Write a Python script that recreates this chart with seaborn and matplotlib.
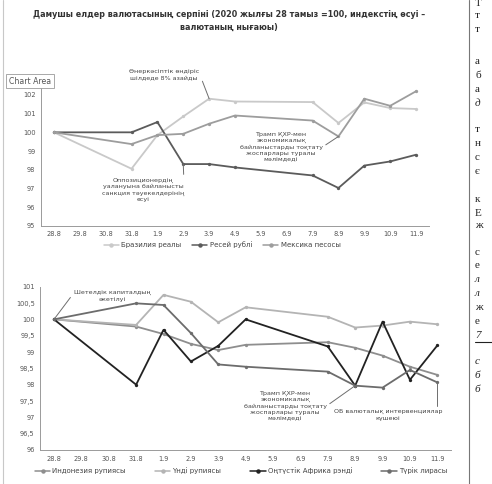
import numpy as np
import pandas as pd
import matplotlib
matplotlib.use('Agg')
import matplotlib.pyplot as plt
from matplotlib.lines import Line2D
from matplotlib.ticker import FuncFormatter, FixedLocator
import seaborn as sns

# calendar days on the category axis and the trading days that carry values
dates = ['28.8', '29.8', '30.8', '31.8', '1.9', '2.9', '3.9', '4.9', '5.9', '6.9',
         '7.9', '8.9', '9.9', '10.9', '11.9']
trade_days = ['28.8', '31.8', '1.9', '2.9', '3.9', '4.9', '7.9', '8.9', '9.9', '10.9', '11.9']

# top panel
brl = [100, 98.05, 99.85, 100.85, 101.8, 101.65, 101.62, 100.5, 101.6, 101.3, 101.25]
rub = [100, 100, 100.55, 98.3, 98.3, 98.12, 97.69, 97.02, 98.22, 98.44, 98.8]
mxn = [100, 99.37, 99.85, 99.92, 100.46, 100.9, 100.63, 99.78, 101.8, 101.42, 102.2]
top_names = ['Бразилия реалы', 'Ресей рублі', 'Мексика песосы']

# bottom panel
idr = [100, 99.78, 99.55, 99.25, 99.06, 99.22, 99.3, 99.13, 98.89, 98.55, 98.3]
inr = [100, 99.83, 100.75, 100.54, 99.91, 100.37, 100.08, 99.75, 99.81, 99.93, 99.85]
zar = [100, 98.0, 99.68, 98.71, 99.19, 100.0, 99.17, 97.97, 99.93, 98.15, 99.2]
try_ = [100, 100.49, 100.44, 99.58, 98.62, 98.55, 98.4, 97.97, 97.91, 98.45, 98.07]
bot_names = ['Индонезия рупиясы', 'Үнді рупиясы', 'Оңтүстік Африка рэнді', 'Түрік лирасы']

title = ('Дамушы елдер валютасының серпіні (2020 жылғы 28 тамыз =100, индекстің өсуі –\n'
         'валютаның нығаюы)')

W, H = 492, 484
sns.set_style('white')
plt.rcParams['font.family'] = ['DejaVu Sans']

fig = plt.figure(figsize=(W / 100, H / 100), dpi=100)


def box(x0, y0, x1, y1):
    # pixel box (from top-left) -> figure fraction rect
    return [x0 / W, 1 - y1 / H, (x1 - x0) / W, (y1 - y0) / H]


def fpx(x, y):
    return (x / W, 1 - y / H)


def long_frame(series, names):
    rows = []
    for vals, name in zip(series, names):
        for d, v in zip(trade_days, vals):
            rows.append({'x': dates.index(d), 'value': v, 'series': name})
    return pd.DataFrame(rows)


def style_axis(ax, ymin, ymax, step, comma=False, hide_top=False):
    ax.set_xlim(-0.5, len(dates) - 0.5)
    ax.set_ylim(ymin, ymax)
    ax.set_xticks(range(len(dates)))
    ax.set_xticklabels(dates)
    ax.xaxis.set_minor_locator(FixedLocator(np.arange(-0.5, len(dates), 1)))
    ax.tick_params(axis='x', which='major', length=0, labelsize=4.8, pad=4, colors='#555555')
    ax.tick_params(axis='x', which='minor', length=2, color='#888888', direction='out')
    ax.set_yticks(np.arange(ymin, ymax + 0.001, step))

    def fmt(v, p):
        if hide_top and abs(v - ymax) < 1e-6:
            return ''  # sits under the "Chart Area" tooltip in the scan
        s = f'{v:g}'
        return s.replace('.', ',') if comma else s
    ax.yaxis.set_major_formatter(FuncFormatter(fmt))
    ax.tick_params(axis='y', length=2, labelsize=4.8, pad=2, color='#888888', colors='#555555')
    for s in ['top', 'right']:
        ax.spines[s].set_visible(False)
    for s in ['left', 'bottom']:
        ax.spines[s].set_color('#9a9a9a')
        ax.spines[s].set_linewidth(0.7)
    ax.set_xlabel('')
    ax.set_ylabel('')
    ax.patch.set_alpha(0)


def add_legend(fig, names, colors, center, spacing):
    handles = [Line2D([0], [0], color=c, lw=1.1, marker='o', markersize=2.2) for c in colors]
    fig.legend(handles, names, loc='center', bbox_to_anchor=center, ncol=len(names),
               frameon=False, fontsize=5, handlelength=2.2, columnspacing=spacing,
               handletextpad=0.3, labelcolor='#444444', borderaxespad=0)


lead = dict(arrowstyle='-', color='#6e6e6e', lw=0.7, shrinkA=0, shrinkB=0)
note = dict(fontsize=4.6, color='#444444', ha='center', va='center', linespacing=1.35)

# top panel
ax1 = fig.add_axes(box(41, 76.3, 429, 225.7))
top_colors = ['#c9c9c9', '#5b5b5b', '#9d9d9d']
df_top = long_frame([brl, rub, mxn], top_names)
sns.lineplot(data=df_top, x='x', y='value', hue='series', palette=top_colors,
             marker='o', markersize=2.4, markeredgewidth=0, linewidth=1.3, legend=False, ax=ax1)
style_axis(ax1, 95, 103, 1, hide_top=True)
add_legend(fig, top_names, top_colors, fpx(222, 245), 1.6)

ax1.annotate('Өнеркәсіптік өндіріс\nшілдеде 8% азайды', xy=(dates.index('3.9'), brl[4]),
             xytext=fpx(164, 75), textcoords='figure fraction',
             arrowprops=dict(lead, relpos=(1.0, 0.7)), **note)
ax1.annotate('Оппозиционердің\nуалануына байланысты\nсанкция тәуекелдерінің\nөсуі',
             xy=(dates.index('2.9'), rub[3]), xytext=fpx(143, 190), textcoords='figure fraction',
             arrowprops=dict(lead, relpos=(1.0, 0.62)), **note)
ax1.annotate('Трамп ҚХР-мен\nэкономикалық\nбайланыстарды тоқтату\nжоспарлары туралы\nмәлімдеді',
             xy=(dates.index('8.9'), mxn[7]), xytext=fpx(281, 147), textcoords='figure fraction',
             arrowprops=dict(lead, relpos=(1.0, 0.5)), **note)

# bottom panel
ax2 = fig.add_axes(box(40.3, 286.7, 451, 450))
bot_colors = ['#8e8e8e', '#b4b4b4', '#222222', '#6c6c6c']
df_bot = long_frame([idr, inr, zar, try_], bot_names)
sns.lineplot(data=df_bot, x='x', y='value', hue='series', palette=bot_colors,
             marker='o', markersize=2.4, markeredgewidth=0, linewidth=1.3, legend=False, ax=ax2)
style_axis(ax2, 96, 101, 0.5, comma=True)
add_legend(fig, bot_names, bot_colors, fpx(241, 471), 4.2)

ax2.annotate('Шетелдік капиталдың\nәкетілуі', xy=(0, 100), xytext=fpx(112, 296),
             textcoords='figure fraction', arrowprops=dict(lead, relpos=(0.0, 0.75)), **note)
ax2.annotate('Трамп ҚХР-мен\nэкономикалық\nбайланыстарды тоқтату\nжоспарлары туралы\nмәлімдеді',
             xy=(dates.index('8.9'), zar[7]), xytext=fpx(285, 406), textcoords='figure fraction',
             arrowprops=dict(lead, relpos=(1.0, 0.5)), **note)
ax2.annotate('ОБ валюталық интервенциялар\nкүшеюі', xy=(dates.index('11.9'), try_[10]),
             xytext=fpx(388, 415), textcoords='figure fraction',
             arrowprops=dict(lead, relpos=(1.0, 0.75), connectionstyle='angle,angleA=0,angleB=90'),
             **note)

# title
fig.text(*fpx(229, 21), title, ha='center', va='center', fontsize=5.75, fontweight='bold',
         color='#333333', linespacing=1.5)

# Excel tooltip left on the scan
fig.text(*fpx(30, 81), 'Chart Area', ha='center', va='center', fontsize=5.6, color='#555555',
         zorder=10, bbox=dict(boxstyle='square,pad=0.35', fc='white', ec='#9a9a9a', lw=0.6))

# frame of the chart and page column rule
fig.add_artist(Line2D([3 / W, 3 / W], [0, 1], color='#c8c8c8', lw=0.8))
fig.add_artist(Line2D([469 / W, 469 / W], [0, 1], color='#777777', lw=0.8))

# cut-off text of the neighbouring column
side = [('Т', 3), ('т', 16), ('т', 30), ('а', 62), ('б', 76), ('а', 90), ('д', 104),
        ('т', 130), ('н', 144), ('с', 157), ('є', 171), ('к', 199), ('Е', 213), ('ж', 226),
        ('с', 252), ('е', 266), ('л', 280), ('л', 293), ('ж', 307), ('е', 321), ('7', 335),
        ('с', 362), ('б', 376), ('б', 390)]
italic = {'д', 'л', '7'}
for i, (ch, yy) in enumerate(side):
    st = 'italic' if (ch in italic or i >= 21) else 'normal'
    fig.text(*fpx(475, yy), ch, ha='left', va='center', fontsize=8, color='#222222',
             family='Liberation Serif', style=st)
fig.add_artist(Line2D([475 / W, 492 / W], [1 - 342 / H, 1 - 342 / H], color='#222222', lw=0.8))

fig.savefig('out.png', dpi=100, facecolor='white')
